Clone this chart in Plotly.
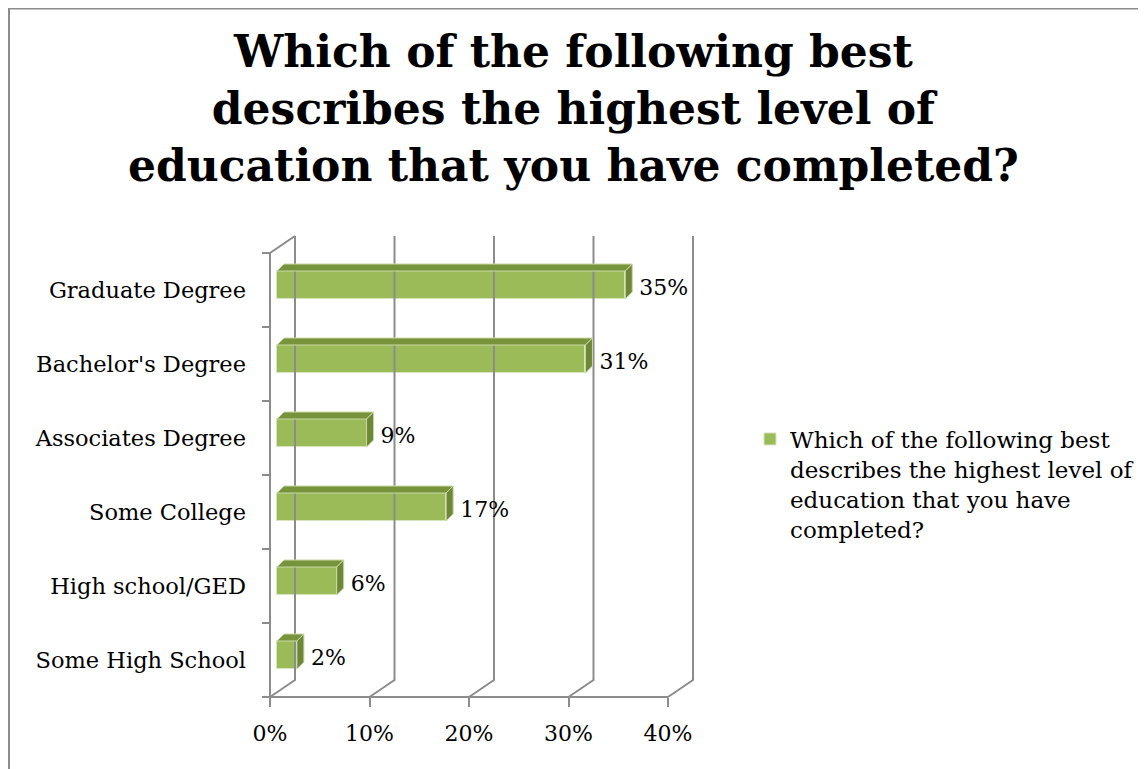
import plotly.graph_objects as go

categories = ["Some High School", "High school/GED", "Some College",
              "Associates Degree", "Bachelor's Degree", "Graduate Degree"]
values = [2, 6, 17, 9, 31, 35]
x_ticks = [0, 10, 20, 30, 40]
x_tick_labels = ["0%", "10%", "20%", "30%", "40%"]
series_name = "Which of the following best<br>describes the highest level of<br>education that you have<br>completed?"
title_text = "Which of the following best<br>describes the highest level of<br>education that you have completed?"

W, H = 1146, 769
OFF = 8  # page body margin
# pixel mapping for the fake 3d box
SX, X0PX = 9.95, 270 - OFF      # px per percent, px of 0% on the floor front
SY, Y0PX = 74, 697 - OFF        # px per category, px of floor front edge
DL, DR, DT, DB = 222, 722, 207, 717

DEPTH_X, DEPTH_Y = 25 / SX, 17 / SY     # wall depth
BAR_X0 = 7 / SX                         # bar front plane offset
BAR_DY = 5 / SY
BAR_H = 28 / SY
BAR_DX, BAR_DDY = 7 / SX, 7 / SY        # bar depth
LABEL_PAD = 7 / SX

GRID = "#8c8c8c"
FRONT = "#9bbb59"
TOP = "#77933c"
SIDE = "#6c8735"
FONT = "DejaVu Serif"

n = len(categories)
x_max = x_ticks[-1]

fig = go.Figure()

# wall / floor lines
gx, gy = [], []
for t in x_ticks:
    gx += [t + DEPTH_X, t + DEPTH_X, t, None]
    gy += [n + DEPTH_Y, DEPTH_Y, 0, None]
gx += [0, 0, DEPTH_X, None, 0, x_max, None]
gy += [0, n, n + DEPTH_Y, None, 0, 0, None]
fig.add_trace(go.Scatter(x=gx, y=gy, mode="lines", line=dict(color=GRID, width=2),
                         hoverinfo="skip", showlegend=False))

# bars
centers = [i + 0.5 + BAR_DY for i in range(n)]
tx, ty, sx, sy = [], [], [], []
for v, c in zip(values, centers):
    top, bot = c + BAR_H / 2, c - BAR_H / 2
    tx += [BAR_X0, BAR_X0 + v, BAR_X0 + v + BAR_DX, BAR_X0 + BAR_DX, BAR_X0, None]
    ty += [top, top, top + BAR_DDY, top + BAR_DDY, top, None]
    sx += [BAR_X0 + v, BAR_X0 + v + BAR_DX, BAR_X0 + v + BAR_DX, BAR_X0 + v, BAR_X0 + v, None]
    sy += [bot, bot + BAR_DDY, top + BAR_DDY, top, bot, None]
fig.add_trace(go.Scatter(x=tx, y=ty, mode="lines", fill="toself", fillcolor=TOP,
                         line=dict(color="#c9d9a5", width=1), hoverinfo="skip", showlegend=False))
fig.add_trace(go.Scatter(x=sx, y=sy, mode="lines", fill="toself", fillcolor=SIDE,
                         line=dict(color="#c9d9a5", width=1), hoverinfo="skip", showlegend=False))
fig.add_trace(go.Bar(orientation="h", x=values, y=centers, base=BAR_X0, width=BAR_H,
                     marker=dict(color=FRONT, line=dict(color="#d7e4bd", width=1)),
                     name=series_name, showlegend=True))

# data labels
fig.add_trace(go.Scatter(x=[BAR_X0 + v + BAR_DX + LABEL_PAD for v in values],
                         y=[c - 0.06 for c in centers],
                         mode="text", text=[f"{v}%" for v in values], textposition="middle right",
                         textfont=dict(family=FONT, size=22, color="black"),
                         hoverinfo="skip", showlegend=False, cliponaxis=False))

fig.add_annotation(text="<b>" + title_text + "</b>", xref="paper", yref="paper",
                   x=(573 - OFF) / W, y=(H - (108 - OFF)) / H, xanchor="center", yanchor="middle",
                   showarrow=False, align="center",
                   font=dict(family=FONT, size=44, color="black"))

fig.update_layout(
    width=W, height=H,
    margin=dict(l=0, r=0, t=0, b=0),
    paper_bgcolor="white", plot_bgcolor="rgba(0,0,0,0)",
    bargap=0,
    xaxis=dict(domain=[DL / W, DR / W], range=[(DL - X0PX) / SX, (DR - X0PX) / SX],
               anchor="free", position=(H - Y0PX) / H,
               tickvals=x_ticks, ticktext=x_tick_labels, ticks="outside", ticklen=9,
               tickwidth=2, tickcolor=GRID, showline=False, showgrid=False, zeroline=False,
               ticklabelstandoff=8, automargin=False,
               tickfont=dict(family=FONT, size=22, color="black"), fixedrange=True),
    yaxis=dict(domain=[(H - DB) / H, (H - DT) / H], range=[(Y0PX - DB) / SY, (Y0PX - DT) / SY],
               anchor="free", position=X0PX / W,
               tickvals=[i + 0.5 for i in range(n)], ticktext=categories, ticks="",
               minor=dict(tickvals=list(range(n + 1)), ticks="outside", ticklen=8,
                          tickwidth=2, tickcolor=GRID),
               ticklabelstandoff=24, automargin=False,
               showline=False, showgrid=False, zeroline=False,
               tickfont=dict(family=FONT, size=22.5, color="black"), fixedrange=True),
    legend=dict(x=(752 - 2 - OFF) / W, y=(H - (484 - OFF)) / H, xanchor="left", yanchor="middle",
                valign="top", font=dict(family=FONT, size=23, color="black")),
    shapes=[dict(type="path", xref="paper", yref="paper",
                 path=f"M {1 / W} -0.01 L {1 / W} {1 - 0.5 / H} L 1.01 {1 - 0.5 / H}",
                 line=dict(color=GRID, width=2))],
)

fig.write_html("out.html")
